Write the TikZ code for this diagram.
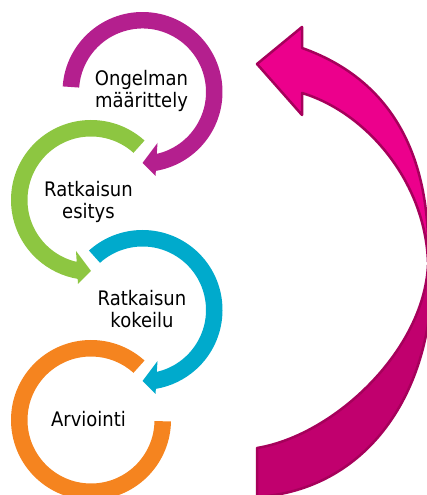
\documentclass[tikz,border=0pt]{standalone}
\usepackage{fontspec}
\setmainfont{DejaVu Sans}[FakeStretch=0.9]
\definecolor{cPurple}{HTML}{B41F8E}
\definecolor{cGreen}{HTML}{8DC641}
\definecolor{cCyan}{HTML}{00AACC}
\definecolor{cOrange}{HTML}{F5841F}
\definecolor{mLight}{HTML}{EC008C}
\definecolor{mDark}{HTML}{C1006E}
\definecolor{mLine}{HTML}{A6005B}
\begin{document}
\begin{tikzpicture}[x=1pt,y=1pt,
  ring/.style={fill=#1,draw=none},
  bigarrow/.style={fill=#1,draw=mLine,line width=2.5pt,line join=round},
  lbl/.style={font=\fontsize{20}{22}\selectfont,align=center,inner sep=0pt,anchor=base,text=black}]
\useasboundingbox (0,0) rectangle (427,495);
\clip (0,0) rectangle (427,495);
\coordinate (P) at (142.5,403);
\coordinate (G) at (91,295);
\coordinate (C) at (142.5,185);
\coordinate (O) at (91,75);
% purple ring (clockwise)
\path[ring=cPurple,shift={(P)}] (176:80) arc[start angle=176,end angle=-80.4,radius=80]
  -- (13,-84) -- (0,-71) -- (15,-51) -- (-77:63.5) arc[start angle=-77,end angle=176,radius=63.5] -- cycle;
% green ring (counter-clockwise)
\path[ring=cGreen,shift={(G)}] (48:80) arc[start angle=48,end angle=260.4,radius=80]
  -- (-13,-84) -- (0,-71) -- (-15,-51) -- (257:63.5) arc[start angle=257,end angle=48,radius=63.5] -- cycle;
% cyan ring (clockwise)
\path[ring=cCyan,shift={(C)}] (132:80) arc[start angle=132,end angle=-80.4,radius=80]
  -- (13,-84) -- (0,-71) -- (15,-51) -- (-77:63.5) arc[start angle=-77,end angle=132,radius=63.5] -- cycle;
% orange ring
\path[ring=cOrange,shift={(O)}] (48:80) arc[start angle=48,end angle=359,radius=80]
  -- (359:63.5) arc[start angle=359,end angle=48,radius=63.5] -- cycle;
% big magenta arrow: lower (back) part
\path[bigarrow=mDark] (428,230) .. controls (424,145) and (335,60) .. (257,47)
  -- (257,-2) .. controls (365,5) and (435,100) .. (432,230) -- cycle;
% upper (front) part with head
\path[bigarrow=mLight] (302,447) .. controls (370,423) and (432,365) .. (428,233)
  .. controls (425,315) and (365,383) .. (302,402)
  -- (302,380) -- (257,431) -- (302,468) -- cycle;
% labels (base anchor = baseline of the last line)
\node[lbl] (t1) at (141.5,387) {Ongelman\\määrittely};
\node[lbl] (t2) at (88.5,276) {Ratkaisun\\esitys};
\node[lbl] (t3) at (142,167) {Ratkaisun\\kokeilu};
\node[lbl] (t4) at (88.5,68) {Arviointi};
\end{tikzpicture}
\end{document}
